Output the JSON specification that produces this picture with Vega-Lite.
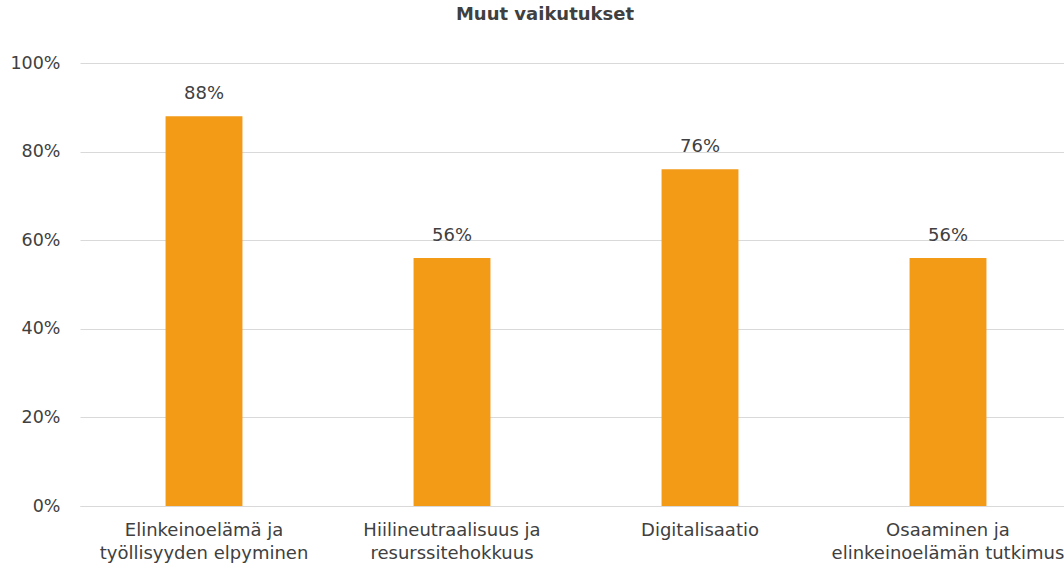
{
  "$schema": "https://vega.github.io/schema/vega-lite/v6.json",
  "width": 992,
  "height": 443,
  "autosize": "none",
  "padding": {"left": 80, "top": 63, "right": 0, "bottom": 59},
  "background": "white",
  "config": {
    "font": "DejaVu Sans",
    "view": {"stroke": null}
  },
  "title": {
    "text": "Muut vaikutukset",
    "fontSize": 18,
    "fontWeight": "bold",
    "color": "#404040",
    "anchor": "middle",
    "dx": -31,
    "offset": 30
  },
  "data": {
    "values": [
      {"kategoria": "Elinkeinoelämä ja työllisyyden elpyminen", "osuus": 0.88},
      {"kategoria": "Hiilineutraalisuus ja resurssitehokkuus", "osuus": 0.56},
      {"kategoria": "Digitalisaatio", "osuus": 0.76},
      {"kategoria": "Osaaminen ja elinkeinoelämän tutkimus", "osuus": 0.56}
    ]
  },
  "encoding": {
    "x": {
      "field": "kategoria",
      "type": "nominal",
      "sort": null,
      "scale": {"paddingInner": 0.69, "paddingOuter": 0.345},
      "axis": {
        "title": null,
        "labelAngle": 0,
        "labelFontSize": 18,
        "labelColor": "#404040",
        "labelPadding": 15,
        "labelLineHeight": 23,
        "labelBaseline": "top",
        "labelOverlap": false,
        "ticks": false,
        "domainColor": "#d9d9d9",
        "labelLimit": 300,
        "labelExpr": "datum.value == 'Elinkeinoelämä ja työllisyyden elpyminen' ? ['Elinkeinoelämä ja', 'työllisyyden elpyminen'] : datum.value == 'Hiilineutraalisuus ja resurssitehokkuus' ? ['Hiilineutraalisuus ja', 'resurssitehokkuus'] : datum.value == 'Osaaminen ja elinkeinoelämän tutkimus' ? ['Osaaminen ja', 'elinkeinoelämän tutkimus'] : datum.value"
      }
    },
    "y": {
      "field": "osuus",
      "type": "quantitative",
      "scale": {"domain": [0, 1]},
      "axis": {
        "title": null,
        "format": ".0%",
        "values": [0, 0.2, 0.4, 0.6, 0.8, 1.0],
        "labelOverlap": false,
        "labelFontSize": 17.5,
        "labelColor": "#404040",
        "labelPadding": 20,
        "ticks": false,
        "domain": false,
        "gridColor": "#d9d9d9"
      }
    }
  },
  "layer": [
    {"mark": {"type": "bar", "color": "#F39A17"}},
    {
      "mark": {"type": "text", "dy": -22, "fontSize": 18, "color": "#404040"},
      "encoding": {"text": {"field": "osuus", "type": "quantitative", "format": ".0%"}}
    }
  ]
}
